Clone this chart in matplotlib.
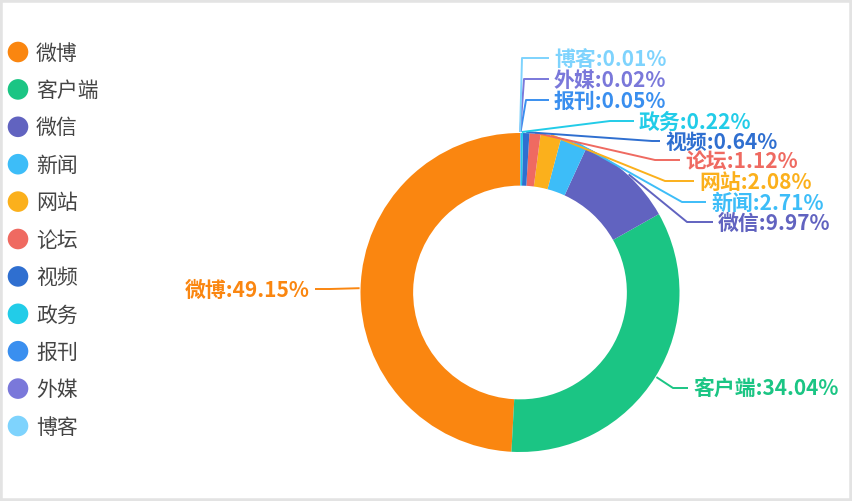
import numpy as np
import matplotlib.pyplot as plt
from matplotlib.patches import Rectangle

plt.rcParams['font.family'] = ['Noto Sans CJK SC', 'DejaVu Sans']

W, H = 852, 501

categories = ['微博', '客户端', '微信', '新闻', '网站', '论坛', '视频', '政务', '报刊', '外媒', '博客']
shares = [49.15, 34.04, 9.97, 2.71, 2.08, 1.12, 0.64, 0.22, 0.05, 0.02, 0.01]
colors = ['#fa8610', '#1bc584', '#6163c0', '#3dbdf8', '#fbb01c', '#ef6a61',
          '#2f6fd0', '#22cce8', '#3a8fef', '#7a78da', '#7ed3fd']

# label layout in pixel coords: (elbow x, elbow y, text x)
label_pos = {
    '微博': (330, 289, 310),
    '客户端': (673, 388, 693),
    '微信': (687, 222, 718),
    '新闻': (682, 202, 711),
    '网站': (665, 181, 699),
    '论坛': (655, 160, 685),
    '视频': (652, 141, 665),
    '政务': (610, 121, 639),
    '报刊': (526, 100, 554),
    '外媒': (524, 79, 554),
    '博客': (522, 58, 554),
}


def P(y):
    return H - y


def main():
    fig = plt.figure(figsize=(W / 100, H / 100), dpi=100)
    ax = fig.add_axes([0, 0, 1, 1])

    cx, cy, r = 520, 292.5, 159.5
    wedges, _ = ax.pie(shares, colors=colors, radius=r, center=(cx, P(cy)),
                       startangle=90, counterclock=True,
                       wedgeprops=dict(width=r * 0.33, edgecolor='none'))
    ax.set_xlim(0, W)
    ax.set_ylim(0, H)
    ax.set_aspect('auto')
    ax.axis('off')

    for w, name, val, col in zip(wedges, categories, shares, colors):
        mid = np.deg2rad((w.theta1 + w.theta2) / 2)
        sx = cx + (r + 1) * np.cos(mid)
        sy = P(cy) + (r + 1) * np.sin(mid)
        ex, ey, tx = label_pos[name]
        left = tx < cx
        end = tx + 5 if left else tx - 5
        ax.plot([sx, ex, end], [sy, P(ey), P(ey)], color=col, lw=1.4,
                solid_capstyle='butt')
        ax.text(tx, P(ey + 1.5), f'{name}:{val:.2f}%', color=col, fontsize=15,
                fontweight='bold', ha='right' if left else 'left', va='center')

    # legend
    for i, (name, col) in enumerate(zip(categories, colors)):
        y = 52 + i * 37.4
        ax.scatter([18], [P(y)], s=220, color=col, edgecolors='none')
        ax.text(36, P(y + 1.5), name, fontsize=15, color='#444444', va='center', ha='left')

    fig.patches.append(Rectangle((0, 0), 1, 1, transform=fig.transFigure,
                                 fill=False, edgecolor='#e3e3e3', lw=4))
    fig.savefig('out.png', dpi=100)


if __name__ == '__main__':
    main()
